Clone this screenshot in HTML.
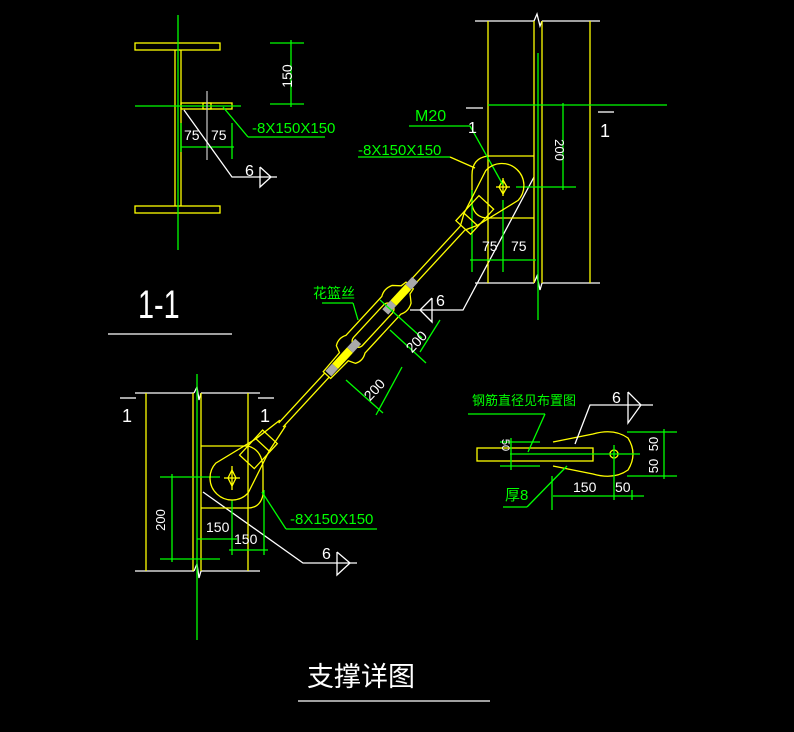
<!DOCTYPE html>
<html><head><meta charset="utf-8"><style>
html,body{margin:0;padding:0;background:#000;}
svg{display:block;}
text{font-family:"Liberation Sans","Noto Sans CJK SC",sans-serif;}
</style></head><body>
<svg width="794" height="732" viewBox="0 0 794 732" xmlns="http://www.w3.org/2000/svg">
<rect width="794" height="732" fill="#000"/>
<g fill="none" stroke-width="1.3">
<!-- ===== Section 1-1 ===== -->
<g stroke="#ffff00">
<rect x="135" y="43" width="85" height="7"/>
<rect x="135" y="206" width="85" height="7"/>
<line x1="175" y1="50" x2="175" y2="206"/>
<line x1="181" y1="50" x2="181" y2="206"/>
<rect x="181" y="103" width="51" height="6"/>
<rect x="203" y="103" width="8" height="6"/>
</g>
<g stroke="#00ff00">
<line x1="178" y1="15" x2="178" y2="250"/>
<line x1="135" y1="106" x2="241" y2="106"/>
<line x1="270" y1="43" x2="304" y2="43"/>
<line x1="270" y1="104" x2="304" y2="104"/>
<line x1="291" y1="40" x2="291" y2="107"/>
<line x1="181" y1="147" x2="234" y2="147"/>
<line x1="181" y1="123" x2="181" y2="152"/>
<line x1="232" y1="123" x2="232" y2="159"/>
<line x1="223" y1="107" x2="248" y2="137"/>
<line x1="248" y1="137" x2="325" y2="137"/>
</g>
<line x1="207" y1="91" x2="207" y2="160" stroke="#bbb"/>
<g stroke="#fff">
<polyline points="184,110 232,177 277,177"/>
<polyline points="260,167 271,177 260,187 260,167"/>
<line x1="108" y1="334" x2="232" y2="334"/>
</g>

<!-- ===== Top-right column ===== -->
<g stroke="#fff">
<line x1="475" y1="21" x2="534" y2="21"/><line x1="542" y1="21" x2="600" y2="21"/>
<line x1="475" y1="283" x2="534" y2="283"/><line x1="542" y1="283" x2="600" y2="283"/>
<polyline points="534,21 537,14 540,26 542,21"/>
<polyline points="534,283 537,276 540,290 542,283"/>
<line x1="466" y1="108" x2="483" y2="108"/>
<line x1="598" y1="112" x2="614" y2="112"/>
<polyline points="534,177 463,310 410,310"/>
<polyline points="432,298 420,310 432,322 432,298"/>
</g>
<g stroke="#ffff00">
<line x1="488" y1="21" x2="488" y2="283"/>
<line x1="534" y1="21" x2="534" y2="283"/>
<line x1="542" y1="21" x2="542" y2="283"/>
<line x1="590" y1="21" x2="590" y2="283"/>
<line x1="488" y1="156" x2="534" y2="156"/>
<line x1="488" y1="218" x2="534" y2="218"/>
<path d="M488,156 Q472,158 472,175 L472,205 Q475,218 488,218"/>
<path d="M503,180 L507,187 L503,194 L499,187 Z"/>
<line x1="496" y1="187" x2="510" y2="187"/><line x1="503" y1="178" x2="503" y2="196"/>
</g>
<g stroke="#00ff00">
<line x1="538" y1="53" x2="538" y2="320"/>
<line x1="488" y1="105" x2="667" y2="105"/>
<line x1="516" y1="187" x2="576" y2="187"/>
<line x1="563" y1="103" x2="563" y2="190"/>
<line x1="470" y1="260" x2="536" y2="260"/>
<line x1="472" y1="190" x2="472" y2="272"/>
<line x1="503" y1="200" x2="503" y2="272"/>
<line x1="409" y1="126" x2="470" y2="126"/>
<line x1="470" y1="126" x2="503" y2="185"/>
<line x1="358" y1="157" x2="450" y2="157"/>
</g>
<line x1="450" y1="157" x2="475" y2="168" stroke="#ffff00"/>

<!-- ===== Bottom-left column ===== -->
<g stroke="#fff">
<line x1="135" y1="393" x2="194" y2="393"/><line x1="201" y1="393" x2="260" y2="393"/>
<line x1="135" y1="571" x2="194" y2="571"/><line x1="201" y1="571" x2="260" y2="571"/>
<polyline points="194,393 197,387 199,400 201,393"/>
<polyline points="194,571 197,564 199,578 201,571"/>
<line x1="120" y1="398" x2="136" y2="398"/>
<line x1="258" y1="398" x2="274" y2="398"/>
<polyline points="203,492 303,563 357,563"/>
<polyline points="337,552 350,563 337,575 337,552"/>
<line x1="298" y1="701" x2="490" y2="701"/>
</g>
<g stroke="#ffff00">
<line x1="146" y1="393" x2="146" y2="571"/>
<line x1="193" y1="393" x2="193" y2="571"/>
<line x1="201" y1="393" x2="201" y2="571"/>
<line x1="248" y1="393" x2="248" y2="571"/>
<line x1="201" y1="446" x2="248" y2="446"/>
<line x1="201" y1="508" x2="248" y2="508"/>
<path d="M248,446 Q263,450 263,470 L263,495 Q260,508 248,508"/>
<path d="M232,470 L236,478 L232,486 L228,478 Z"/>
<line x1="224" y1="478" x2="240" y2="478"/><line x1="232" y1="466" x2="232" y2="490"/>
</g>
<g stroke="#00ff00">
<line x1="197" y1="374" x2="197" y2="640"/>
<line x1="160" y1="477" x2="220" y2="477"/>
<line x1="160" y1="559" x2="220" y2="559"/>
<line x1="172" y1="474" x2="172" y2="562"/>
<line x1="197" y1="539" x2="237" y2="539"/>
<line x1="232" y1="500" x2="232" y2="555"/>
<line x1="229" y1="550" x2="268" y2="550"/>
<line x1="264" y1="490" x2="264" y2="555"/>
<line x1="262" y1="492" x2="286" y2="529"/>
<line x1="286" y1="529" x2="377" y2="529"/>
</g>

<!-- ===== Rod / turnbuckle ===== -->
<g transform="translate(232,478) rotate(-47.3)">
<g stroke="#ffff00">
<path d="M0,-22 A22,22 0 1 0 0,22 L45,9 L45,-9 Z"/>
<rect x="22" y="-10" width="34" height="20"/>
<line x1="45" y1="-9" x2="75" y2="-4"/><line x1="45" y1="9" x2="75" y2="4"/>
<line x1="72" y1="-3" x2="140" y2="-3"/><line x1="72" y1="3" x2="140" y2="3"/>
<path d="M140,-5 L165,-6 L168,-13 Q175,-17 182,-13 L235,-13 Q242,-17 250,-13 L256,-6 L262,-5 L262,5 L256,6 L250,13 Q242,17 235,13 L182,13 Q175,17 168,13 L165,6 L140,5 Z"/>
<rect x="180" y="-6" width="56" height="12" rx="6"/>
<line x1="262" y1="-3" x2="340" y2="-3"/><line x1="262" y1="3" x2="340" y2="3"/>
<line x1="340" y1="-3" x2="352" y2="-9"/><line x1="340" y1="3" x2="352" y2="9"/>
<rect x="341" y="-10" width="34" height="20"/>
<path d="M398,-22 A22,22 0 1 1 398,22 L352,9 L352,-9 Z"/>
</g>
<rect x="142" y="-4" width="10" height="8" fill="#aaa"/>
<rect x="152" y="-4" width="22" height="8" fill="#ffff00"/>
<rect x="174" y="-4" width="12" height="8" fill="#aaa"/>
<rect x="226" y="-4" width="12" height="8" fill="#aaa"/>
<rect x="238" y="-4" width="22" height="8" fill="#ffff00"/>
<rect x="260" y="-4" width="10" height="8" fill="#aaa"/>
</g>
<g stroke="#00ff00">
<line x1="346" y1="380" x2="383" y2="413"/>
<line x1="402" y1="367" x2="376" y2="415"/>
<line x1="390" y1="330" x2="426" y2="363"/>
<line x1="440" y1="320" x2="420" y2="352"/>
<line x1="380" y1="300" x2="422" y2="338"/>
<line x1="322" y1="303" x2="353" y2="303"/>
<line x1="353" y1="303" x2="358" y2="320"/>
</g>

<!-- ===== Bottom right detail ===== -->
<g stroke="#ffff00">
<rect x="477" y="448" width="116" height="13"/>
<path d="M553,442 L593,434 Q614,428 628,438 Q638,454 628,470 Q614,480 593,474 L553,466"/>
<circle cx="614" cy="454" r="4"/>
</g>
<g stroke="#00ff00">
<line x1="500" y1="442" x2="540" y2="442"/><line x1="500" y1="466" x2="540" y2="466"/>
<line x1="511" y1="438" x2="511" y2="470"/>
<line x1="510" y1="454" x2="640" y2="454"/>
<line x1="614" y1="445" x2="614" y2="500"/>
<line x1="627" y1="432" x2="677" y2="432"/><line x1="627" y1="476" x2="677" y2="476"/>
<line x1="664" y1="429" x2="664" y2="479"/>
<line x1="552" y1="476" x2="552" y2="510"/>
<line x1="553" y1="496" x2="644" y2="496"/>
<line x1="632" y1="490" x2="632" y2="500"/>
<line x1="468" y1="414" x2="545" y2="414"/><line x1="545" y1="414" x2="528" y2="452"/>
<line x1="503" y1="507" x2="527" y2="507"/><line x1="527" y1="507" x2="567" y2="466"/>
</g>
<g stroke="#fff">
<polyline points="575,444 590,405 653,405"/>
<polyline points="628,392 641,405 628,423 628,392"/>
</g>
</g>

<!-- ===== Text ===== -->
<g fill="#fff" font-size="15">
<text x="284" y="84" transform="rotate(-90 284 76)" font-size="14" text-anchor="middle">150</text>
<text x="184" y="140" font-size="14">75</text>
<text x="211" y="140" font-size="14">75</text>
<text x="245" y="176" font-size="16">6</text>
<text x="138" y="318" font-size="36" transform="translate(138 318) scale(0.8 1.1) translate(-138 -318)">1-1</text>
<text x="555" y="150" transform="rotate(90 555 150)" font-size="13" text-anchor="middle">200</text>
<text x="482" y="251" font-size="14">75</text>
<text x="511" y="251" font-size="14">75</text>
<text x="468" y="133" font-size="16">1</text>
<text x="600" y="137" font-size="18">1</text>
<text x="436" y="306" font-size="16">6</text>
<text x="122" y="422" font-size="18">1</text>
<text x="260" y="422" font-size="18">1</text>
<text x="165" y="520" transform="rotate(-90 165 520)" font-size="13" text-anchor="middle">200</text>
<text x="206" y="532" font-size="14">150</text>
<text x="234" y="544" font-size="14">150</text>
<text x="322" y="559" font-size="16">6</text>
<text x="420" y="345" transform="rotate(-47 420 345)" font-size="14" text-anchor="middle">200</text>
<text x="378" y="393" transform="rotate(-47 378 393)" font-size="14" text-anchor="middle">200</text>
<text x="612" y="403" font-size="16">6</text>
<text x="573" y="492" font-size="14">150</text>
<text x="615" y="492" font-size="14">50</text>
<text x="658" y="444" transform="rotate(-90 658 444)" font-size="13" text-anchor="middle">50</text>
<text x="658" y="466" transform="rotate(-90 658 466)" font-size="13" text-anchor="middle">50</text>
<text x="502" y="445" transform="rotate(90 502 445)" font-size="11" text-anchor="middle">50</text>
<text x="307" y="686" font-size="27" font-family="'Noto Sans CJK SC',sans-serif">支撑详图</text>
</g>
<g fill="#00ff00">
<text x="252" y="133" font-size="15">-8X150X150</text>
<text x="415" y="121" font-size="16">M20</text>
<text x="358" y="155" font-size="15">-8X150X150</text>
<text x="290" y="524" font-size="15">-8X150X150</text>
<text x="313" y="298" font-size="14" font-family="'Noto Sans CJK SC',sans-serif">花篮丝</text>
<text x="472" y="405" font-size="13" font-family="'Noto Sans CJK SC',sans-serif">钢筋直径见布置图</text>
<text x="505" y="500" font-size="15" font-family="'Noto Sans CJK SC',sans-serif">厚8</text>
</g>
</svg>
</body></html>
